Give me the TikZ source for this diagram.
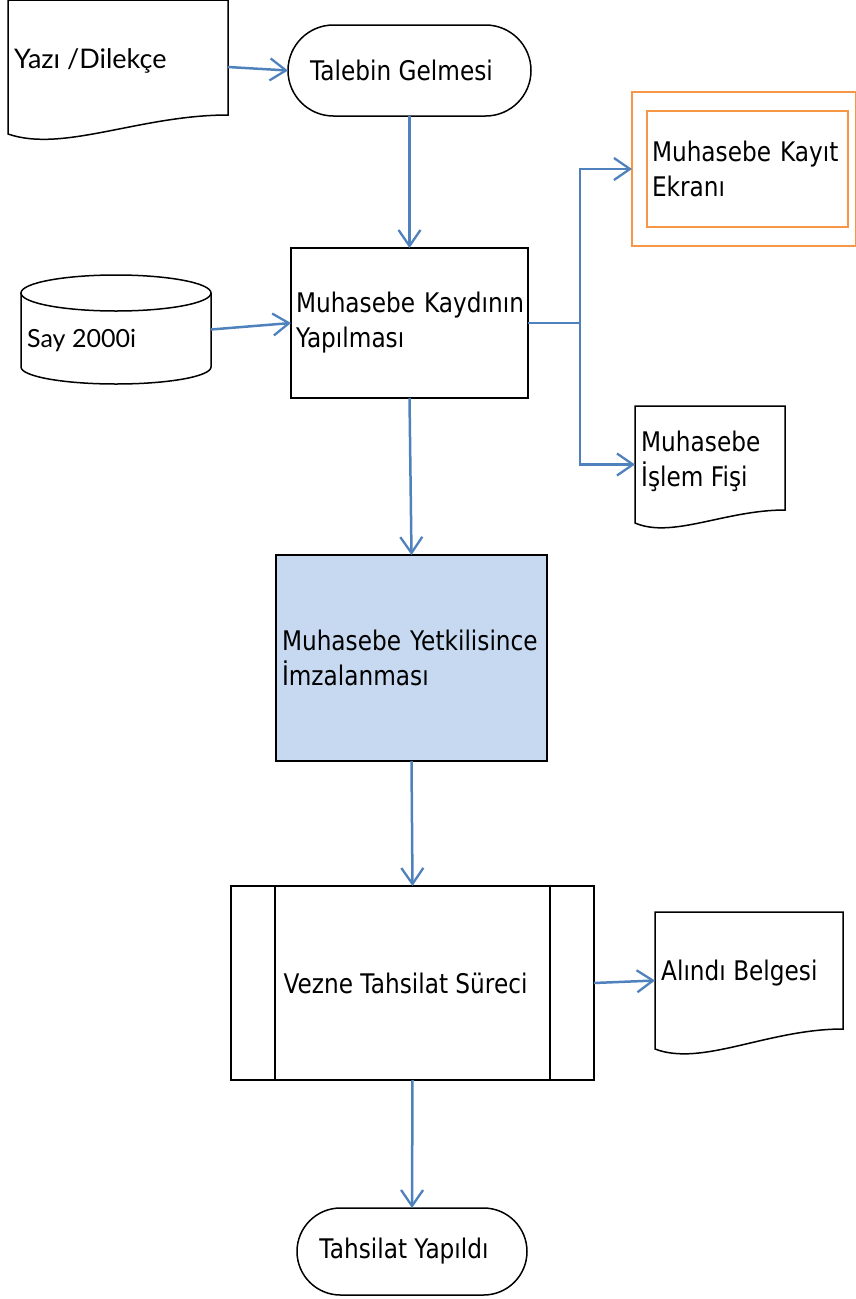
\documentclass[tikz,border=0pt]{standalone}
\usepackage{fontspec}
\setmainfont{DejaVu Sans}[FakeStretch=0.86]
\newfontfamily\gillfont{Lato}
\usetikzlibrary{arrows.meta,calc,shapes.misc}
\definecolor{arrowblue}{HTML}{4F81BD}
\definecolor{orangeline}{HTML}{F79646}
\definecolor{fillblue}{HTML}{C6D9F1}
\newcommand{\docpath}[3]{%
  \draw[shapeline] (#1.north west) -- (#1.north east) -- ([yshift=#2pt]#1.south east)
    .. controls ($(#1.south west)!0.6!(#1.south east)+(0pt,#2pt)$)
    and ($(#1.south west)!0.25!(#1.south east)+(0pt,-#3pt)$) .. (#1.south west) -- cycle;}
\begin{document}
\begin{tikzpicture}[x=1pt,y=-1pt,
  shapeline/.style={draw=black, line width=1.5pt},
  txt/.style={font=\fontsize{27}{35}\selectfont},
  hidden/.style={rectangle, draw=none, inner sep=0pt, outer sep=0pt},
  box/.style={shapeline, rectangle, outer sep=0pt, inner sep=5pt, align=left, txt},
  term/.style={shapeline, rounded rectangle, outer sep=0pt, inner sep=0pt, txt},
  arr/.style={draw=arrowblue, line width=2.5pt, -{Straight Barb[length=16pt,width=22pt,line width=2.3pt]}},
  link/.style={draw=arrowblue, line width=2.5pt},
  orangebox/.style={draw=orangeline, line width=1.3pt, rectangle, outer sep=0pt},
]
\useasboundingbox (0,0) rectangle (856,1299);

% Yazi / Dilekce document
\node[hidden, minimum width=220pt, minimum height=134pt] (yazi) at (118,67) {};
\docpath{yazi}{19}{19}
\node[anchor=base west, inner sep=0pt, font=\gillfont\fontsize{27}{30}\selectfont] (yazitext) at (14,68) {Yazı /Dilekçe};

% Talebin Gelmesi
\node[term, minimum width=243pt, minimum height=91pt] (talep) at (409.5,70.5) {\hspace*{-16pt}Talebin Gelmesi};

% Muhasebe Kaydinin Yapilmasi
\node[box, text width=227pt, minimum height=150pt] (kayit) at (409.5,323) {\mbox{Muhasebe Kaydının}\\\mbox{Yapılması}};

% Say 2000i cylinder
\node[hidden, minimum width=190pt, minimum height=109pt] (say) at (116,329.5) {};
\draw[shapeline, fill=white] (21,293) -- (21,367) arc[start angle=180, end angle=360, x radius=95pt, y radius=17pt] -- (211,293);
\draw[shapeline] (116,293) ellipse [x radius=95pt, y radius=18pt];
\node[anchor=base west, inner sep=0pt, font=\gillfont\fontsize{25}{30}\selectfont] (saytext) at (27,347) {Say 2000i};

% Muhasebe Kayit Ekrani (orange)
\node[orangebox, minimum width=224pt, minimum height=154pt] (ekran) at (744,169) {};
\node[orangebox, minimum width=201pt, minimum height=116pt, text width=191pt, inner sep=5pt, align=left, txt] (ekranin) at (747.5,169) {\mbox{Muhasebe Kayıt}\\\mbox{Ekranı}};

% Muhasebe Islem Fisi document
\node[hidden, minimum width=150pt, minimum height=117pt] (fis) at (710,464.5) {};
\docpath{fis}{13}{16}
\node[anchor=west, inner sep=0pt, align=left, txt] (fistext) at (641,461) {Muhasebe\\İşlem Fişi};

% Muhasebe Yetkilisince Imzalanmasi
\node[box, fill=fillblue, inner xsep=6pt, text width=259pt, minimum height=206pt] (yetki) at (411.5,658) {\mbox{Muhasebe Yetkilisince}\\\mbox{İmzalanması}};

% Vezne Tahsilat Sureci
\node[shapeline, rectangle, outer sep=0pt, minimum width=363pt, minimum height=194pt, txt] (vezne) at (412.5,983) {\hspace*{-14pt}Vezne Tahsilat Süreci};
\draw[shapeline] ([xshift=44pt]vezne.north west) -- ([xshift=44pt]vezne.south west);
\draw[shapeline] ([xshift=-44pt]vezne.north east) -- ([xshift=-44pt]vezne.south east);

% Alindi Belgesi document
\node[hidden, minimum width=188pt, minimum height=137pt] (alindi) at (749,980.5) {};
\docpath{alindi}{20}{18}
\node[anchor=base west, inner sep=0pt, txt] (alinditext) at (661,980) {Alındı Belgesi};

% Tahsilat Yapildi
\node[term, minimum width=230pt, minimum height=87pt] (tahsil) at (412,1251.5) {\hspace*{-16pt}Tahsilat Yapıldı};

% connectors
\draw[arr] (yazi.east) -- (talep.west);
\draw[arr] (talep.south) -- (kayit.north);
\draw[arr] (say.east) -- (kayit.west);
\coordinate (branch) at ($(kayit.east)+(52,0)$);
\draw[link] (kayit.east) -- (branch);
\draw[arr] (branch) |- (ekran.west);
\draw[arr] (branch) |- (fis.west);
\draw[arr] (kayit.south) -- (yetki.north);
\draw[arr] (yetki.south) -- (vezne.north);
\draw[arr] (vezne.east) -- (alindi.west);
\draw[arr] (vezne.south) -- (tahsil.north);
\end{tikzpicture}
\end{document}
